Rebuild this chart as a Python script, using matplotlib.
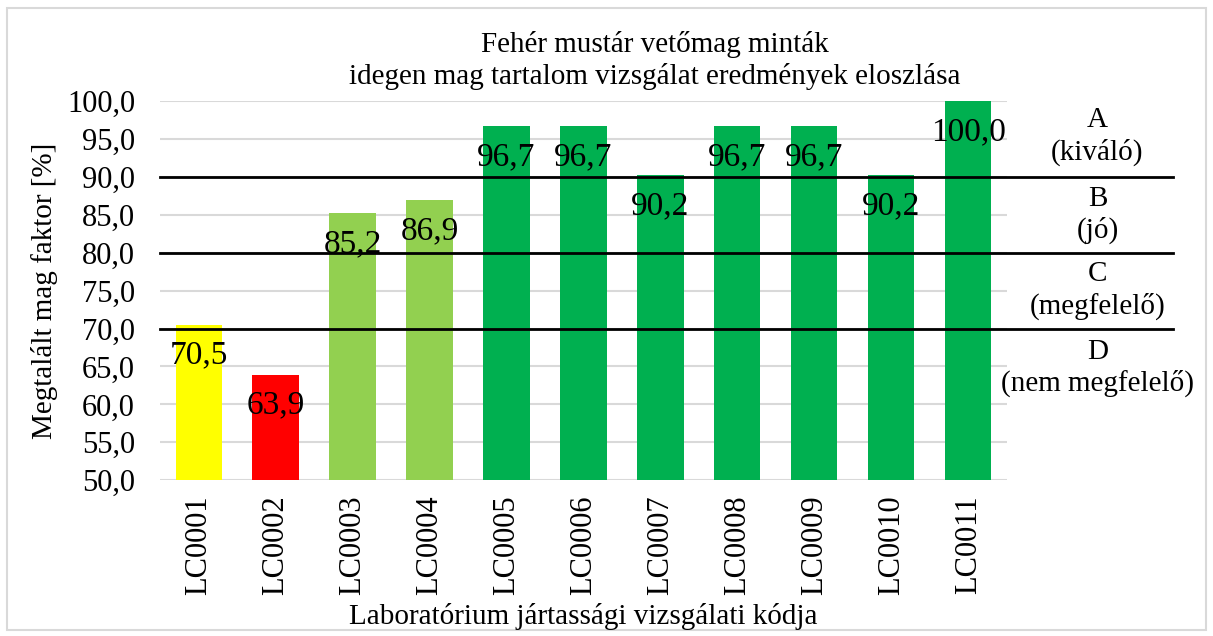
import matplotlib
matplotlib.use("Agg")
import matplotlib.pyplot as plt
import matplotlib.transforms as mtransforms
from matplotlib.patches import Rectangle

plt.rcParams['font.family'] = ['Liberation Serif', 'DejaVu Serif']

# data
codes = ['LC0001', 'LC0002', 'LC0003', 'LC0004', 'LC0005', 'LC0006',
         'LC0007', 'LC0008', 'LC0009', 'LC0010', 'LC0011']
values = [70.5, 63.9, 85.2, 86.9, 96.7, 96.7, 90.2, 96.7, 96.7, 90.2, 100.0]
bar_colors = ['#FFFF00', '#FF0000', '#92D050', '#92D050', '#00B050', '#00B050',
              '#00B050', '#00B050', '#00B050', '#00B050', '#00B050']
thresholds = [90, 80, 70]
band_labels = ['A\n(kiváló)', 'B\n(jó)', 'C\n(megfelelő)', 'D\n(nem megfelelő)']
band_centers = [95.3, 85.0, 75.0, 64.8]

fs = 21

fig = plt.figure(figsize=(12.13, 6.36), dpi=100)
ax = fig.add_axes([0.132, 0.245, 0.698, 0.596])

x = range(len(codes))
ax.bar(x, values, width=0.6, color=bar_colors, zorder=2)

for xi, v in zip(x, values):
    ax.annotate(f"{v:.1f}".replace('.', ','), (xi, v), xytext=(0, -22),
                textcoords='offset points', ha='center', va='center',
                fontsize=24, zorder=4)

ax.set_ylim(50, 100)
ax.set_xlim(-0.5, len(codes) - 0.5)
ax.set_yticks(range(50, 101, 5))
ax.set_yticklabels([f"{t:.1f}".replace('.', ',') for t in range(50, 101, 5)])
ax.set_xticks(list(x))
ax.set_xticklabels(codes, rotation=90)
ax.tick_params(axis='both', length=0, labelsize=22)
ax.tick_params(axis='y', pad=18)
ax.tick_params(axis='x', pad=11)
ax.grid(axis='y', color='#d9d9d9', linewidth=1.5, zorder=0)
ax.set_axisbelow(True)
for s in ax.spines.values():
    s.set_visible(False)

# grade boundary lines reach out past the plot into the label column
trans = mtransforms.blended_transform_factory(ax.transAxes, ax.transData)
for t in thresholds:
    ax.plot([0, 1.196], [t, t], color='black', linewidth=2, transform=trans,
            clip_on=False, zorder=3)
for lbl, c in zip(band_labels, band_centers):
    ax.text(1.107, c, lbl, transform=trans, ha='center', va='center',
            fontsize=fs, linespacing=1.25)

fig.text(0.54, 0.905, "Fehér mustár vetőmag minták\nidegen mag tartalom vizsgálat eredmények eloszlása",
         ha='center', va='center', fontsize=fs, linespacing=1.2)
fig.text(0.037, 0.543, "Megtalált mag faktor [%]", rotation=90,
         ha='center', va='center', fontsize=fs)
fig.text(0.481, 0.03, "Laboratórium jártassági vizsgálati kódja",
         ha='center', va='center', fontsize=fs)

fig.patches.append(Rectangle((0.006, 0.009), 0.988, 0.978, transform=fig.transFigure,
                             fill=False, edgecolor='#d9d9d9', linewidth=1.5))

fig.savefig('out.png', dpi=100)
